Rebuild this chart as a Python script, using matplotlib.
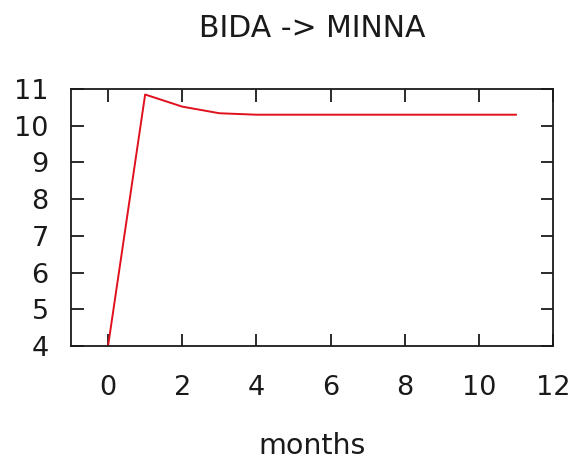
import matplotlib
matplotlib.use("Agg")
import matplotlib.pyplot as plt

# data
months = [0, 1, 2, 3, 4, 5, 6, 7, 8, 9, 10, 11]
values = [4.0, 10.85, 10.52, 10.34, 10.3, 10.3, 10.3, 10.3, 10.3, 10.3, 10.3, 10.3]
xticks = [0, 2, 4, 6, 8, 10, 12]
yticks = [4, 5, 6, 7, 8, 9, 10, 11]

plt.rcParams['font.family'] = ['DejaVu Sans']

fig = plt.figure(figsize=(5.8, 4.66), dpi=100)
ax = fig.add_axes([0.1224, 0.2575, 0.831, 0.5515])

ax.plot(months, values, color='#e0101c', linewidth=1.4)

ax.set_xlim(-1, 12)
ax.set_ylim(4, 11)
ax.set_xticks(xticks)
ax.set_yticks(yticks)
ax.tick_params(direction='in', length=9, width=1.3, labelsize=19.5,
               top=True, right=True, colors='#1a1a1a')
ax.tick_params(axis='x', pad=21)
ax.tick_params(axis='y', pad=16)
for s in ax.spines.values():
    s.set_linewidth(1.3)
    s.set_color('#1a1a1a')

fig.text(0.538, 0.938, 'BIDA -> MINNA', ha='center', va='center', fontsize=21.5, color='#1a1a1a')
fig.text(0.538, 0.043, 'months', ha='center', va='center', fontsize=20.5, color='#1a1a1a')

fig.savefig('out.png', dpi=100)
